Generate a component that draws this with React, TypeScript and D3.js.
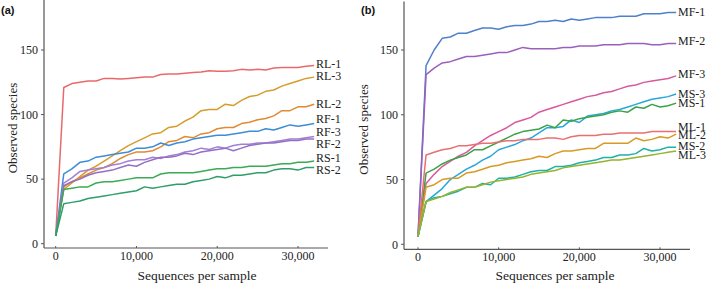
import React from "react";
import * as d3 from "d3";

// x positions: 0, 1000, ..., 32000
const seqDepths: number[] = [0, 1000, 2000, 3000, 4000, 5000, 6000, 7000, 8000, 9000, 10000, 11000, 12000, 13000, 14000, 15000, 16000, 17000, 18000, 19000, 20000, 21000, 22000, 23000, 24000, 25000, 26000, 27000, 28000, 29000, 30000, 31000, 32000];

const yTicks: number[] = [0, 50, 100, 150];
const xTicks: number[] = [0, 10000, 20000, 30000];

// Panel (a)
const seriesA_names: string[] = ["RL-1", "RL-3", "RL-2", "RF-1", "RF-3", "RF-2", "RS-1", "RS-2"];
const seriesA_colors: string[] = ["#e8696b", "#d69c2c", "#e08a32", "#3d8dd6", "#a27fd4", "#946fc6", "#3aaa55", "#2f9e6a"];
const RL1: number[] = [6, 121, 124, 125, 126, 126, 128, 128, 127.5, 128, 128.5, 129, 129, 131, 131.5, 131.5, 132, 132.5, 133, 134, 133.5, 133.5, 134, 135, 134.5, 135, 134.5, 136, 136.5, 136.5, 136.5, 137.5, 138];
const RL3: number[] = [6, 42, 47, 52, 57, 60, 64, 68, 72, 76, 79, 82, 85, 86, 90, 91, 95, 98, 103, 104, 104, 108, 107, 111, 114, 115, 118, 119, 122, 124, 126, 128, 129];
const RL2: number[] = [6, 44, 48, 51, 54, 57, 59, 62, 66, 69, 71, 71, 72, 75, 79, 80, 83, 82, 85, 86, 89, 90, 90, 93, 94, 96, 97, 99, 103, 103, 106, 106, 108];
const RF1: number[] = [6, 54, 58, 63, 64, 67, 68, 69, 70, 71, 74, 74, 75, 78, 76, 78, 79, 81, 82, 83, 84, 84, 85, 86, 87, 87, 89, 88, 90, 92, 91, 92, 93];
const RF3: number[] = [6, 47, 51, 56, 57, 58, 59, 61, 62, 64, 65, 65, 67, 66, 68, 69, 71, 72, 74, 73, 75, 74, 76, 77, 77, 78, 78, 79, 80, 81, 81, 82, 83];
const RF2: number[] = [6, 45, 48, 50, 53, 55, 56, 57, 59, 61, 60, 63, 65, 67, 67, 68, 70, 69, 71, 72, 73, 74, 72, 74, 76, 77, 78, 78, 79, 80, 80, 81, 81];
const RS1: number[] = [6, 42, 43, 44, 44, 47, 48, 48, 49, 50, 51, 51, 51, 54, 55, 55, 55, 55, 56, 57, 58, 58, 59, 59, 60, 60, 60, 61, 62, 62, 63, 63, 64];
const RS2: number[] = [6, 31, 32, 33, 35, 36, 37, 38, 39, 40, 41, 44, 43, 44, 45, 46, 46, 48, 49, 50, 52, 51, 53, 53, 54, 55, 55, 57, 58, 58, 57, 59, 59];
const seriesA_labelY: number[] = [139.7, 130.1, 108.7, 96.6, 86.7, 77.7, 66.6, 57.6];

// Panel (b)
const seriesB_names: string[] = ["MF-1", "MF-2", "MF-3", "MS-3", "MS-1", "ML-1", "ML-2", "MS-2", "ML-3"];
const seriesB_colors: string[] = ["#4f80ca", "#9b60bd", "#d95a9c", "#27a8d9", "#3aa247", "#e9706e", "#d99a23", "#20b0a6", "#93b42f"];
const MF1: number[] = [6, 138, 150, 159, 160, 163, 163, 165, 167, 167, 166, 168, 169, 169, 170, 172, 172, 173, 172, 174, 173, 174, 175, 175, 175, 176, 176, 176, 178, 178, 178, 179, 179];
const MF2: number[] = [6, 131, 136, 140, 141, 143, 145, 145, 146, 147, 148, 148, 150, 152, 151, 151, 151, 151, 152, 152, 153, 153, 153, 154, 154, 154, 155, 155, 155, 154, 154, 155, 155];
const MF3: number[] = [6, 47, 54, 60, 64, 68, 71, 76, 80, 84, 87, 90, 94, 96, 98, 102, 104, 106, 108, 110, 112, 114, 115, 117, 118, 120, 122, 123, 125, 126, 127, 128, 130];
const MS3: number[] = [6, 33, 38, 43, 50, 54, 58, 61, 65, 68, 73, 75, 77, 80, 82, 86, 90, 90, 91, 96, 94, 99, 100, 101, 103, 104, 106, 108, 110, 112, 113, 114, 116];
const MS1: number[] = [6, 55, 58, 62, 65, 67, 69, 73, 73, 76, 79, 82, 85, 87, 88, 89, 92, 90, 96, 95, 97, 98, 99, 100, 102, 103, 102, 106, 105, 108, 106, 107, 109];
const ML1: number[] = [6, 69, 71, 73, 74, 76, 76, 77, 78, 78, 79, 80, 80, 81, 81, 81, 82, 82, 81, 83, 84, 84, 84, 85, 85, 86, 86, 86, 86, 87, 87, 87, 87];
const ML2: number[] = [6, 44, 46, 50, 51, 51, 55, 56, 58, 60, 61, 63, 64, 65, 66, 68, 67, 70, 72, 72, 73, 74, 74, 78, 78, 78, 78, 82, 80, 81, 83, 82, 85];
const MS2: number[] = [6, 33, 36, 37, 39, 41, 44, 44, 47, 46, 51, 51, 52, 54, 56, 57, 57, 60, 60, 61, 63, 64, 65, 67, 67, 69, 69, 70, 74, 72, 73, 75, 75];
const ML3: number[] = [6, 33, 35, 37, 40, 42, 44, 44, 46, 48, 49, 50, 51, 52, 54, 55, 56, 57, 59, 60, 61, 62, 63, 64, 65, 65, 66, 67, 68, 69, 70, 71, 72];
const seriesB_labelY: number[] = [179.6, 157.2, 132, 116, 108.9, 90.8, 84.4, 76.3, 69.3];

const seriesA: number[][] = [RL1, RL3, RL2, RF1, RF3, RF2, RS1, RS2];
const seriesB: number[][] = [MF1, MF2, MF3, MS3, MS1, ML1, ML2, MS2, ML3];

const SERIF = "'Liberation Serif', 'Times New Roman', serif";
const AXIS_COLOR = "#555";
const TEXT_COLOR = "#222";

type PanelProps = {
  tag: string;
  names: string[];
  colors: string[];
  data: number[][];
  labelY: number[];
  x0: number;
  x1: number;
  xZero: number;
  x30k: number;
  yBase: number;
  yZero: number;
  y150: number;
  yTop: number;
  labelX: number;
  tagX: number;
  titleX: number;
  xTitleX: number;
};

function Panel(p: PanelProps) {
  const xs = d3.scaleLinear().domain([0, 30000]).range([p.xZero, p.x30k]);
  const ys = d3.scaleLinear().domain([0, 150]).range([p.yZero, p.y150]);
  const line = d3
    .line<number>()
    .x((_, i) => xs(seqDepths[i]))
    .y((d) => ys(d));
  const fmt = d3.format(",");
  return (
    <g>
      <text x={p.tagX} y={14} fontFamily="'Liberation Sans', Arial, sans-serif" fontWeight="bold" fontSize={11} fill="#111">
        {p.tag}
      </text>
      <line x1={p.x0} x2={p.x0} y1={p.yTop} y2={p.yBase} stroke={AXIS_COLOR} strokeWidth={1.2} />
      <line x1={p.x0} x2={p.x1} y1={p.yBase} y2={p.yBase} stroke={AXIS_COLOR} strokeWidth={1.2} />
      {yTicks.map((t) => (
        <g key={"y" + t}>
          <line x1={p.x0 - 3} x2={p.x0} y1={ys(t)} y2={ys(t)} stroke={AXIS_COLOR} strokeWidth={1} />
          <text x={p.x0 - 6} y={ys(t)} dy="0.35em" textAnchor="end" fontFamily={SERIF} fontSize={12} fill={TEXT_COLOR}>
            {t}
          </text>
        </g>
      ))}
      {xTicks.map((t) => (
        <g key={"x" + t}>
          <line x1={xs(t)} x2={xs(t)} y1={p.yBase - 2} y2={p.yBase} stroke={AXIS_COLOR} strokeWidth={1} />
          <text x={xs(t)} y={p.yBase + 12} textAnchor="middle" fontFamily={SERIF} fontSize={12} fill={TEXT_COLOR}>
            {fmt(t)}
          </text>
        </g>
      ))}
      <text
        transform={`translate(${p.titleX},${(p.yTop + p.yBase) / 2 + 4}) rotate(-90)`}
        textAnchor="middle"
        dy="0.35em"
        fontFamily={SERIF}
        fontSize={13}
        fill={TEXT_COLOR}
      >
        Observed species
      </text>
      <text x={p.xTitleX} y={280} textAnchor="middle" fontFamily={SERIF} fontSize={13.5} fill={TEXT_COLOR}>
        Sequences per sample
      </text>
      {p.data.map((s, i) => (
        <path key={p.names[i]} d={line(s) || ""} fill="none" stroke={p.colors[i]} strokeWidth={1.5} strokeLinejoin="round" />
      ))}
      {p.names.map((n, i) => (
        <text key={"l" + n} x={p.labelX} y={ys(p.labelY[i])} dy="0.35em" fontFamily={SERIF} fontSize={12} fill={TEXT_COLOR}>
          {n}
        </text>
      ))}
    </g>
  );
}

export default function App() {
  return (
    <svg width={709} height={285} style={{ position: "absolute", left: 0, top: 0, background: "#fff" }}>
      <Panel
        tag="(a)"
        names={seriesA_names}
        colors={seriesA_colors}
        data={seriesA}
        labelY={seriesA_labelY}
        x0={44}
        x1={328}
        xZero={55.7}
        x30k={298}
        yBase={248}
        yZero={243.7}
        y150={50}
        yTop={0}
        labelX={316}
        tagX={1}
        titleX={12}
        xTitleX={197}
      />
      <Panel
        tag="(b)"
        names={seriesB_names}
        colors={seriesB_colors}
        data={seriesB}
        labelY={seriesB_labelY}
        x0={404}
        x1={690}
        xZero={418}
        x30k={660}
        yBase={249.3}
        yZero={244.3}
        y150={50}
        yTop={1.5}
        labelX={678}
        tagX={361}
        titleX={363}
        xTitleX={555}
      />
    </svg>
  );
}
